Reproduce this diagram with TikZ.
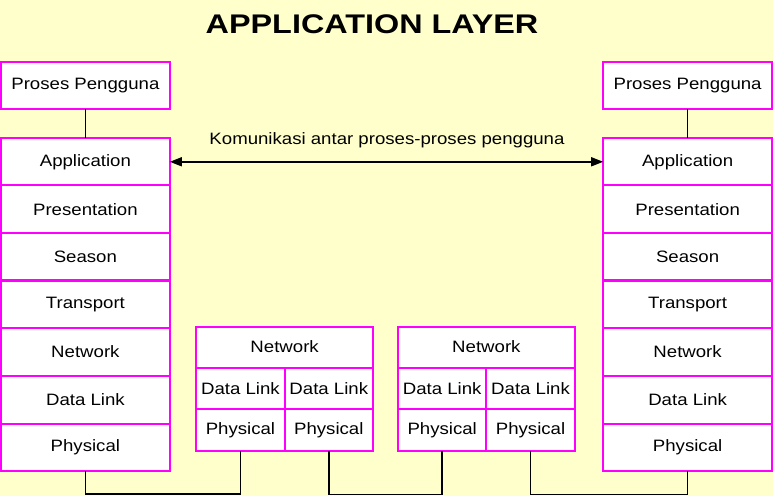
\documentclass[tikz,border=0pt]{standalone}
\usepackage{fontspec}
\setmainfont{Liberation Sans}
\usepackage{graphicx}
\usetikzlibrary{arrows.meta}
\definecolor{paper}{HTML}{FFFFCC}
\definecolor{edge}{HTML}{FF00FF}
\newcommand{\wide}[2][1.13]{\scalebox{#1}[1]{#2}}
\begin{document}
\begin{tikzpicture}[
  x=1pt, y=-1pt,
  layer/.style={rectangle, draw=edge, line width=2pt, fill=white, outer sep=0pt, inner sep=0pt,
    minimum width=169pt, minimum height=47.7pt, font=\fontsize{16.5}{19}\selectfont},
  cell/.style={layer, minimum width=88.5pt, minimum height=41.5pt},
  netrow/.style={layer, minimum width=177pt, minimum height=41pt},
  link/.style={line width=1.5pt, black},
  comm/.style={{Triangle[length=12pt,width=9pt]}-{Triangle[length=12pt,width=9pt]}, line width=1.5pt}
]

% Background
\fill[paper] (0,0) rectangle (773,497);

% Title
\node[font=\fontsize{27}{30}\selectfont\bfseries] (title) at (372,24) {\wide[1.2]{APPLICATION LAYER}};

% Left host
\node[layer, minimum height=47pt] (luser) at (85,85.5) {\wide{Proses Pengguna}};
\node[layer] (lapp) at (85,162) {\wide{Application}};
\node[layer] (lpre) at (85,209.5) {\wide{Presentation}};
\node[layer] (lses) at (85,257) {\wide{Season}};
\node[layer] (ltra) at (85,305) {\wide{Transport}};
\node[layer] (lnet) at (85,352.5) {\wide{Network}};
\node[layer] (ldat) at (85,400.5) {\wide{Data Link}};
\node[layer] (lphy) at (85,448) {\wide{Physical}};

% Right host
\node[layer, minimum height=47pt] (ruser) at (688,85.5) {\wide{Proses Pengguna}};
\node[layer] (rapp) at (688,162) {\wide{Application}};
\node[layer] (rpre) at (688,209.5) {\wide{Presentation}};
\node[layer] (rses) at (688,257) {\wide{Season}};
\node[layer] (rtra) at (688,305) {\wide{Transport}};
\node[layer] (rnet) at (688,352.5) {\wide{Network}};
\node[layer] (rdat) at (688,400.5) {\wide{Data Link}};
\node[layer] (rphy) at (688,448) {\wide{Physical}};

% First router
\node[netrow] (anet) at (284.5,347.5) {\wide{Network}};
\node[cell] (adatl) at (240.25,389) {\wide{Data Link}};
\node[cell] (adatr) at (328.75,389) {\wide{Data Link}};
\node[cell] (aphyl) at (240.25,430.5) {\wide{Physical}};
\node[cell] (aphyr) at (328.75,430.5) {\wide{Physical}};

% Second router
\node[netrow] (bnet) at (486.5,347.5) {\wide{Network}};
\node[cell] (bdatl) at (442.25,389) {\wide{Data Link}};
\node[cell] (bdatr) at (530.75,389) {\wide{Data Link}};
\node[cell] (bphyl) at (442.25,430.5) {\wide{Physical}};
\node[cell] (bphyr) at (530.75,430.5) {\wide{Physical}};

% User processes to application
\draw[link] (luser) -- (lapp);
\draw[link] (ruser) -- (rapp);

% Peer communication
\draw[comm] (lapp.east) -- (rapp.west);
\node[font=\fontsize{16.5}{19}\selectfont] (kom) at (387,140) {\wide{Komunikasi antar proses-proses pengguna}};

% Physical links
\draw[link] (lphy.south) -- ++(0,23) -| (aphyl.south);
\draw[link] (aphyr.south) -- ++(0,44) -| (bphyl.south);
\draw[link] (bphyr.south) -- ++(0,44) -| (rphy.south);

\end{tikzpicture}
\end{document}
